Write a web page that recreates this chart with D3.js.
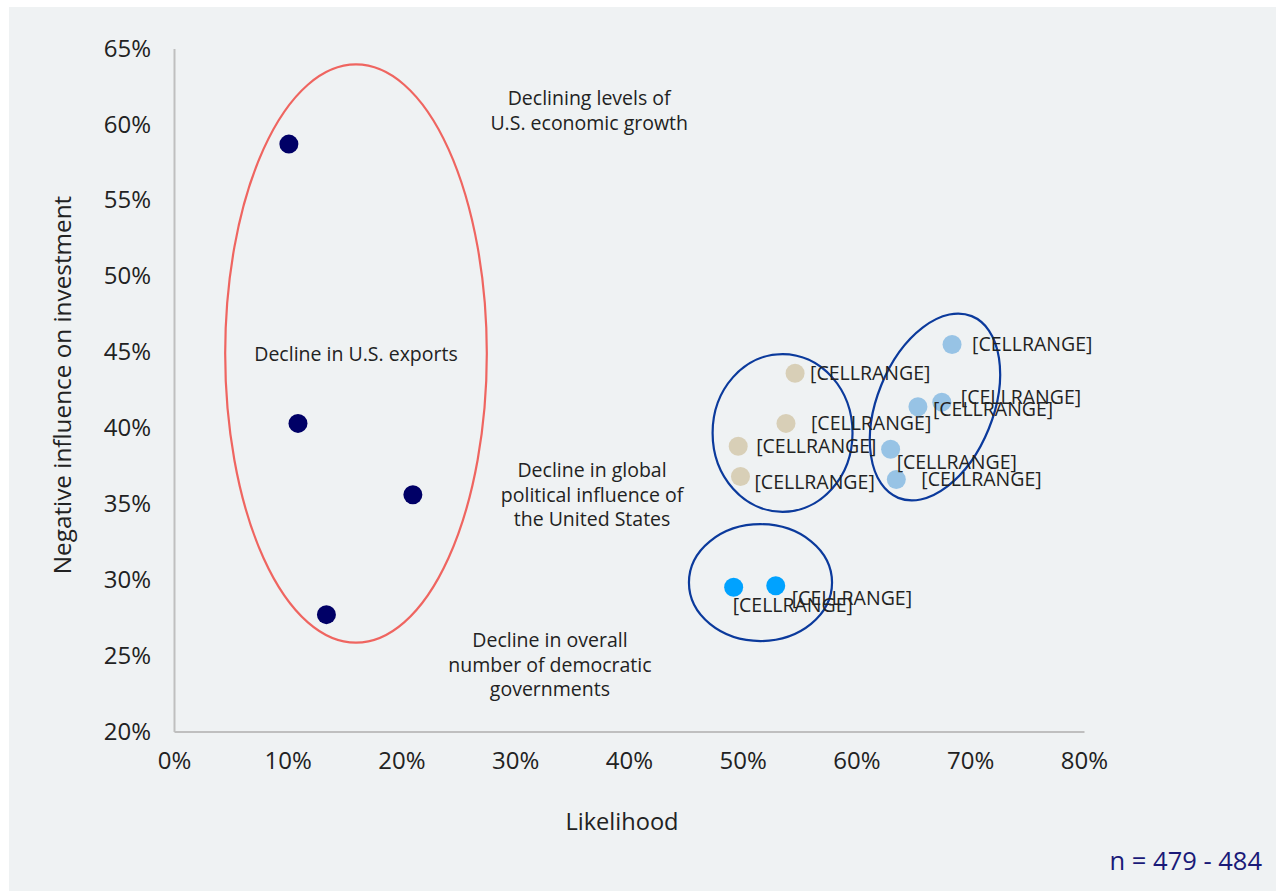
<!DOCTYPE html>
<html>
<head>
<meta charset="utf-8">
<script src="https://cdn.jsdelivr.net/npm/d3@7"></script>
<style>
  html, body { margin: 0; padding: 0; background: #ffffff; }
  svg { display: block; font-family: "Open Sans", "Noto Sans", sans-serif; }
</style>
</head>
<body>
<svg id="chart" width="1276" height="891"></svg>
<script>
// Risk groups: likelihood (x) vs negative influence on investment (y), in %
const exportsX   = [10.1, 10.9, 21.0, 13.4];
const exportsY   = [58.7, 40.3, 35.6, 27.7];

const politicalX = [54.6, 53.8, 49.6, 49.8];
const politicalY = [43.6, 40.3, 38.8, 36.8];

const growthX    = [68.4, 67.5, 65.4, 63.0, 63.5];
const growthY    = [45.5, 41.7, 41.4, 38.6, 36.6];

const democracyX = [49.2, 52.9];
const democracyY = [29.5, 29.6];

const xTicks = [0, 10, 20, 30, 40, 50, 60, 70, 80];
const yTicks = [20, 25, 30, 35, 40, 45, 50, 55, 60, 65];

const pointLabel = "[CELLRANGE]";

// Label nudges (px) for the data labels of each group
const politicalNudge = [[15, 0], [25, 0], [18, 0], [14, 6]];
const growthNudge    = [[20, 0], [19, -5], [15, 2], [6, 13], [25, 0]];
const democracyNudge = [[-1, 18], [16, 12]];

// Group outlines: centre (x %, y %), radii (%), rotation (deg)
const outlines = [
  { cx: 16.0, cy: 44.9, rx: 11.5, ry: 19.05, rot: 0,   color: "#ef6560" },
  { cx: 53.5, cy: 39.67, rx: 6.15, ry: 5.2, rot: 0,   color: "#0b3a9c" },
  { cx: 66.9, cy: 41.38, rot: -68, color: "#0b3a9c", px: true, a: 98, b: 58 },
  { cx: 51.56, cy: 29.81, rx: 6.29, ry: 3.85, rot: 0, color: "#0b3a9c" }
];

const notes = [
  { x: 36.5,  y: 61.27, lines: ["Declining levels of", "U.S. economic growth"] },
  { x: 16.0,  y: 44.41, lines: ["Decline in U.S. exports"] },
  { x: 36.75, y: 36.77, lines: ["Decline in global", "political influence of", "the United States"] },
  { x: 33.05, y: 25.57, lines: ["Decline in overall", "number of democratic", "governments"] }
];

const svg = d3.select("#chart");
const W = 1276, H = 891;

// panel background
svg.append("rect").attr("x", 9).attr("y", 7).attr("width", W - 9).attr("height", H - 7)
  .attr("fill", "#eff2f3");

const x = d3.scaleLinear().domain([0, 80]).range([174, 1084]);
const y = d3.scaleLinear().domain([20, 65]).range([731.5, 48.5]);

// axes
const xAxis = d3.axisBottom(x).tickValues(xTicks).tickFormat(d => d + "%").tickSize(0).tickPadding(20);
const yAxis = d3.axisLeft(y).tickValues(yTicks).tickFormat(d => d + "%").tickSize(0).tickPadding(23);

const gx = svg.append("g").attr("transform", `translate(0,${y(20)})`).call(xAxis);
const gy = svg.append("g").attr("transform", `translate(${x(0)},0)`).call(yAxis);
[gx, gy].forEach(g => {
  g.select(".domain").attr("stroke", "#bfbfbf").attr("stroke-width", 2);
  g.selectAll("text").attr("fill", "#222").attr("font-size", 24)
    .attr("font-family", "'Open Sans', 'Noto Sans', sans-serif");
});

// axis titles
svg.append("text").attr("x", 622).attr("y", 830).attr("text-anchor", "middle")
  .attr("font-size", 23.6).attr("fill", "#222").text("Likelihood");
svg.append("text").attr("transform", `translate(71,385) rotate(-90)`).attr("text-anchor", "middle")
  .attr("font-size", 24.3).attr("fill", "#222").text("Negative influence on investment");

// outlines
outlines.forEach(o => {
  const cx = x(o.cx), cy = y(o.cy);
  const rx = o.px ? o.a : x(o.rx) - x(0);
  const ry = o.px ? o.b : y(20) - y(20 + o.ry);
  svg.append("ellipse")
    .attr("cx", cx).attr("cy", cy).attr("rx", rx).attr("ry", ry)
    .attr("transform", `rotate(${o.rot},${cx},${cy})`)
    .attr("fill", "none").attr("stroke", o.color).attr("stroke-width", 2.2);
});

// annotation notes
notes.forEach(n => {
  const t = svg.append("text").attr("text-anchor", "middle").attr("font-size", 19.5)
    .attr("fill", "#222");
  n.lines.forEach((l, i) => {
    t.append("tspan").attr("x", x(n.x)).attr("y", y(n.y) + i * 24.7).text(l);
  });
});

function drawGroup(xs, ys, color, nudges) {
  const data = xs.map((v, i) => ({ x: v, y: ys[i], n: nudges ? nudges[i] : null }));
  svg.append("g").selectAll("circle").data(data).join("circle")
    .attr("cx", d => x(d.x)).attr("cy", d => y(d.y)).attr("r", 9.5).attr("fill", color);
  if (nudges) {
    svg.append("g").selectAll("text").data(data).join("text")
      .attr("x", d => x(d.x) + d.n[0]).attr("y", d => y(d.y) + d.n[1])
      .attr("dy", "0.35em").attr("font-size", 19.5).attr("fill", "#222")
      .text(pointLabel);
  }
}

drawGroup(exportsX, exportsY, "#000066", null);
drawGroup(politicalX, politicalY, "#d8cfb7", politicalNudge);
drawGroup(growthX, growthY, "#97c3e5", growthNudge);
drawGroup(democracyX, democracyY, "#00a2ff", democracyNudge);

// sample size note
svg.append("text").attr("x", 1262).attr("y", 870).attr("text-anchor", "end")
  .attr("font-size", 25.5).attr("fill", "#1a1a78").text("n = 479 - 484");
</script>
</body>
</html>
